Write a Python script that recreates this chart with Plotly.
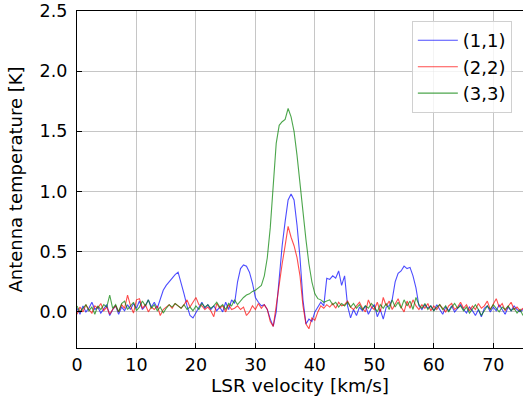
import numpy as np
import plotly.graph_objects as go

# Antenna temperature spectra [K], sampled every 0.5 km/s from 0 to 75 km/s
t11 = [0.03, -0.02, 0.05, 0.00, 0.03, 0.08, 0.02, 0.04, -0.01, 0.03,
       0.06, -0.03, 0.02, 0.05, -0.02, 0.04, 0.01, 0.06, 0.02, 0.07,
       0.03, 0.09, 0.02, 0.05, 0.10, 0.04, 0.08, 0.03, 0.10, 0.18,
       0.22, 0.25, 0.28, 0.31, 0.33, 0.25, 0.15, 0.05, -0.03, -0.05,
       -0.01, 0.04, 0.08, 0.03, 0.06, 0.02, 0.05, 0.01, 0.04, 0.00,
       0.08, 0.02, 0.10, 0.07, 0.25, 0.36, 0.39, 0.38, 0.33, 0.24,
       0.12, 0.08, 0.05, 0.06, 0.02, -0.06, -0.12, 0.00, 0.30, 0.55,
       0.75, 0.93, 0.98, 0.93, 0.72, 0.45, 0.10, -0.10, -0.06, -0.08,
       0.00, 0.04, 0.08, 0.05, 0.28, 0.27, 0.30, 0.28, 0.34, 0.22,
       0.30, 0.05, -0.05, 0.02, -0.03, 0.04, 0.01, 0.05, -0.02, 0.03,
       0.06, -0.04, 0.02, -0.06, 0.04, 0.05, 0.10, 0.25, 0.32, 0.34,
       0.38, 0.36, 0.37, 0.30, 0.20, 0.05, 0.02, 0.06, 0.03, 0.05,
       0.01, 0.06, 0.02, -0.02, 0.04, 0.01, 0.05, 0.00, 0.03, 0.06,
       0.02, -0.01, 0.04, 0.01, -0.03, 0.02, -0.04, 0.03, 0.05, 0.00,
       0.04, 0.01, 0.06, 0.02, -0.02, 0.04, 0.01, 0.05, 0.02, 0.00,
       0.02]

t22 = [-0.02, 0.04, 0.00, 0.06, 0.02, -0.01, 0.05, 0.03, 0.07, 0.01,
       0.04, -0.02, 0.02, 0.05, 0.00, 0.06, 0.03, 0.14, 0.05, -0.01,
       0.10, 0.11, 0.03, 0.06, 0.00, 0.04, 0.02, 0.05, -0.03, 0.02,
       0.04, 0.06, 0.03, 0.07, 0.05, 0.03, 0.06, 0.10, 0.04, 0.08,
       0.12, 0.06, 0.05, 0.02, 0.04, 0.01, -0.04, 0.07, 0.03, 0.05,
       0.00, 0.06, 0.02, 0.03, 0.05, 0.02, 0.04, -0.03, 0.00, 0.05,
       0.02, 0.07, 0.03, 0.06, 0.02, -0.08, -0.12, 0.05, 0.25, 0.40,
       0.55, 0.71, 0.62, 0.55, 0.45, 0.30, 0.05, -0.10, -0.14, -0.05,
       -0.07, 0.00, 0.05, 0.03, 0.06, 0.04, 0.07, 0.03, 0.08, 0.05,
       0.06, 0.09, 0.04, 0.02, 0.05, 0.08, 0.03, 0.00, 0.10, 0.04,
       0.02, 0.08, 0.00, 0.12, 0.05, 0.09, 0.02, 0.07, 0.11, 0.04,
       0.00, 0.09, 0.03, 0.10, 0.05, 0.02, 0.06, 0.03, 0.07, 0.01,
       0.05, 0.02, 0.06, 0.03, 0.00, 0.05, 0.07, 0.02, 0.04, 0.08,
       0.03, 0.06, 0.01, 0.05, 0.02, 0.07, 0.03, 0.05, 0.09, 0.02,
       0.06, 0.11, 0.04, 0.07, 0.01, 0.05, 0.08, 0.02, 0.04, 0.01,
       0.03]

t33 = [0.05, 0.00, 0.03, 0.06, 0.01, 0.04, -0.02, 0.05, 0.02, 0.06,
       0.04, 0.14, 0.03, 0.06, 0.00, 0.07, 0.09, 0.02, 0.05, 0.08,
       0.01, 0.04, 0.09, 0.05, 0.10, 0.03, 0.06, 0.01, 0.04, -0.01,
       0.03, 0.06, 0.04, 0.07, 0.05, 0.03, 0.06, 0.02, 0.04, 0.01,
       0.05, 0.02, 0.07, 0.04, 0.06, 0.03, 0.05, 0.08, 0.04, 0.06,
       0.02, 0.07, 0.05, 0.10, 0.06, 0.09, 0.12, 0.14, 0.15, 0.17,
       0.18, 0.20, 0.22, 0.30, 0.45, 0.70, 1.10, 1.40, 1.55, 1.58,
       1.60, 1.69, 1.62, 1.50, 1.30, 1.05, 0.80, 0.60, 0.40, 0.25,
       0.15, 0.11, 0.10, 0.08, 0.09, 0.10, 0.06, 0.08, 0.04, 0.07,
       0.05, 0.08, 0.04, 0.07, 0.03, 0.06, 0.02, 0.05, 0.03, 0.07,
       0.04, 0.00, 0.06, 0.03, 0.07, 0.02, 0.10, 0.04, 0.08, 0.03,
       0.10, 0.05, 0.09, 0.02, 0.12, 0.06, 0.03, 0.07, 0.02, 0.05,
       0.01, 0.04, 0.06, 0.02, 0.05, 0.00, 0.04, 0.07, 0.03, 0.05,
       0.01, 0.04, -0.01, 0.03, 0.06, 0.02, -0.03, 0.01, 0.05, 0.02,
       0.06, 0.03, 0.00, 0.04, 0.02, 0.05, 0.01, 0.03, -0.01, 0.02,
       -0.03]

velocity = np.arange(len(t11)) * 0.5

names = ["(1,1)", "(2,2)", "(3,3)"]
colors = ["rgba(0,0,255,0.7)", "rgba(255,0,0,0.7)", "rgba(0,128,0,0.7)"]

FONT = "DejaVu Sans"

fig = go.Figure()
for name, ys, c in zip(names, [t11, t22, t33], colors):
    fig.add_trace(go.Scatter(x=velocity, y=ys, mode="lines", name=name,
                             line=dict(color=c, width=1.1)))

axis_common = dict(
    showline=True, linecolor="black", linewidth=1.2, mirror=True,
    ticks="inside", ticklen=5, tickcolor="black", tickwidth=1,
    showgrid=True, gridcolor="rgba(128,128,128,0.45)", gridwidth=1,
    zeroline=False, automargin=False, ticklabeloverflow="allow",
    tickfont=dict(family=FONT, size=17.5, color="black"),
)

fig.update_xaxes(range=[0, 75], dtick=10, tick0=0, ticklabelstandoff=1,
                 title=dict(text="LSR velocity [km/s]", standoff=0,
                            font=dict(family=FONT, size=18.5, color="black")),
                 **axis_common)
fig.update_yaxes(range=[-0.3, 2.5], dtick=0.5, tick0=0, tickformat=".1f",
                 ticklabelstandoff=5,
                 title=dict(text="Antenna temperature [K]", standoff=12,
                            font=dict(family=FONT, size=18, color="black")),
                 **axis_common)

fig.update_layout(
    width=523, height=396,
    margin=dict(l=77, r=0, t=11, b=48),
    paper_bgcolor="white", plot_bgcolor="white",
    font=dict(family=FONT, size=18, color="black"),
    legend=dict(x=0.975, y=0.97, xanchor="right", yanchor="top",
                bgcolor="rgba(255,255,255,0.8)", bordercolor="#d0d0d0",
                borderwidth=1, itemwidth=40, font=dict(family=FONT, size=18)),
    showlegend=True,
)

# remove the browser's default 8px body margin so the figure sits at the page origin
fig.write_html("out.html",
               config={"displayModeBar": False},
               post_script="document.body.style.margin='0';document.body.style.overflow='hidden';")
